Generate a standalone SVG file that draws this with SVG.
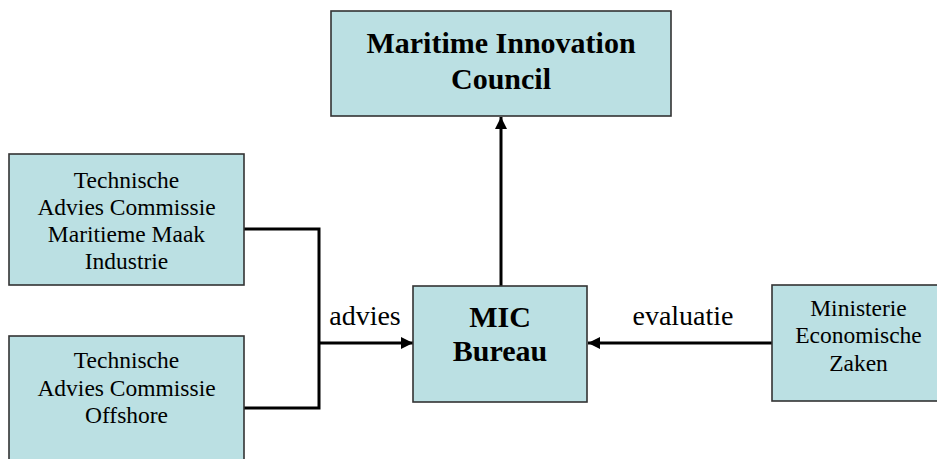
<svg xmlns="http://www.w3.org/2000/svg" width="937" height="459" viewBox="0 0 937 459">
<defs>
<style>
.box{fill:#bbe0e3;stroke:#333333;stroke-width:1.6}
.t{font-family:"Liberation Serif","Times New Roman",serif;fill:#000;text-anchor:middle}
.n{font-size:23.5px}
.b{font-size:30px;font-weight:bold}
.l{font-size:28px}
.c{fill:none;stroke:#000;stroke-width:3}
</style>
<marker id="ah" markerUnits="userSpaceOnUse" markerWidth="14" markerHeight="12" refX="12" refY="6" orient="auto">
<path d="M0,0 L12,6 L0,12 Z" fill="#000"/>
</marker>
</defs>
<rect width="937" height="459" fill="#fff"/>
<g id="connectors">
<polyline class="c" points="244,229 319,229 319,408 244,408"/>
<line class="c" x1="319" y1="343" x2="413" y2="343" marker-end="url(#ah)"/>
<line class="c" x1="772" y1="343" x2="588" y2="343" marker-end="url(#ah)"/>
<line class="c" x1="501" y1="286" x2="501" y2="117" marker-end="url(#ah)"/>
<text class="t l" x="365" y="325">advies</text>
<text class="t l" x="683" y="325">evaluatie</text>
</g>
<g id="council">
<rect class="box" x="331" y="11" width="340" height="105"/>
<text class="t b" x="501" y="53">Maritime Innovation</text>
<text class="t b" x="501" y="89">Council</text>
</g>
<g id="tac-mmi">
<rect class="box" x="9" y="154" width="235" height="131"/>
<text class="t n" x="126.5" y="188">Technische</text>
<text class="t n" x="126.5" y="215">Advies Commissie</text>
<text class="t n" x="126.5" y="242">Maritieme Maak</text>
<text class="t n" x="126.5" y="269">Industrie</text>
</g>
<g id="tac-offshore">
<rect class="box" x="9" y="336" width="235" height="130"/>
<text class="t n" x="126.5" y="368">Technische</text>
<text class="t n" x="126.5" y="396">Advies Commissie</text>
<text class="t n" x="126.5" y="423">Offshore</text>
</g>
<g id="mic-bureau">
<rect class="box" x="413" y="286" width="174" height="116"/>
<text class="t b" x="500" y="327">MIC</text>
<text class="t b" x="500" y="361">Bureau</text>
</g>
<g id="ministerie">
<rect class="box" x="772" y="285" width="170" height="116"/>
<text class="t n" x="858.5" y="316">Ministerie</text>
<text class="t n" x="858.5" y="343">Economische</text>
<text class="t n" x="858.5" y="371">Zaken</text>
</g>
</svg>
